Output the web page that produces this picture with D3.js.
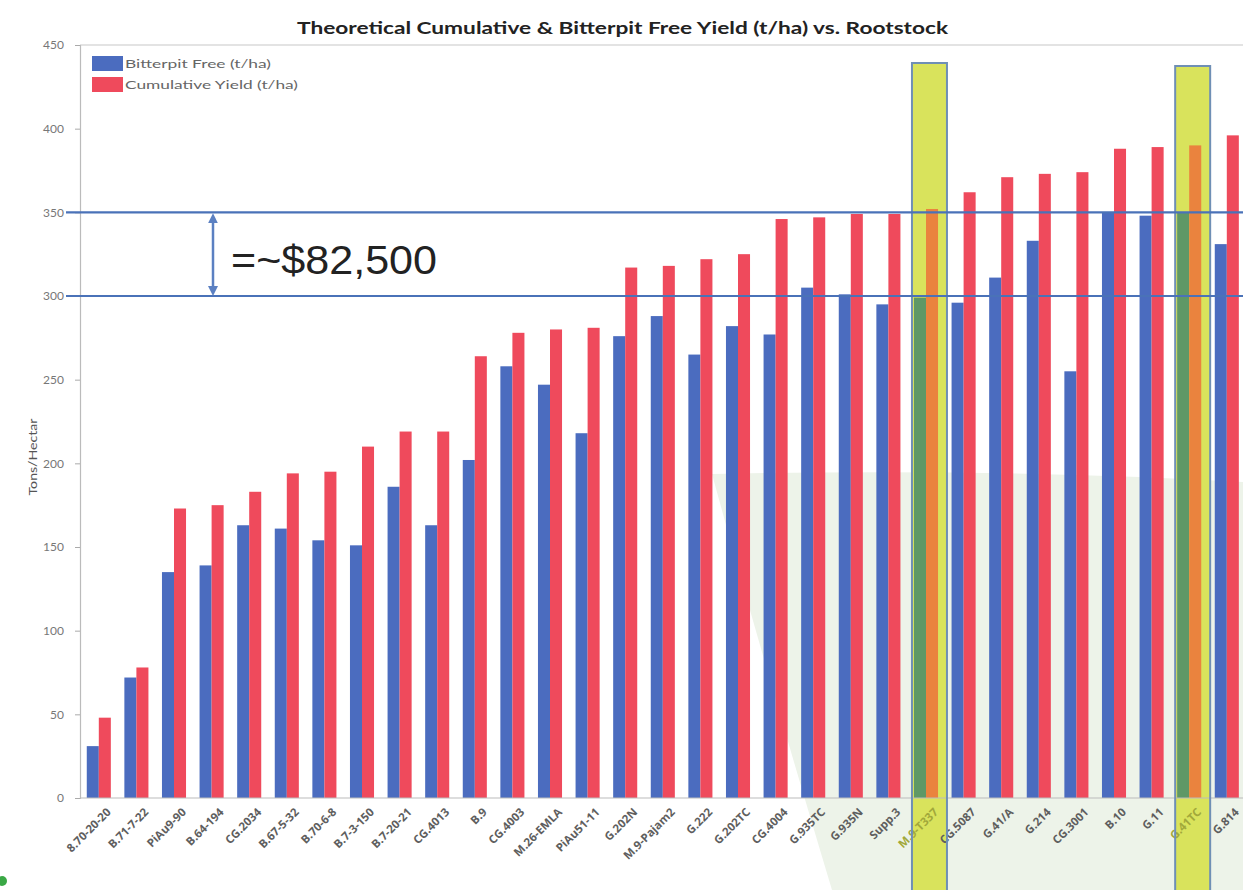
<!DOCTYPE html>
<html><head><meta charset="utf-8">
<script src="https://cdn.jsdelivr.net/npm/d3@7"></script>
<style>
html,body{margin:0;padding:0;background:#fff;}
svg{display:block;}
</style></head>
<body>
<svg id="chart" width="1243" height="890"></svg>
<script>
const categories = ["8.70-20-20","B.71-7-22","PiAu9-90","B.64-194","CG.2034","B.67-5-32","B.70-6-8","B.7-3-150","B.7-20-21","CG.4013","B.9","CG.4003","M.26-EMLA","PiAu51-11","G.202N","M.9-Pajam2","G.222","G.202TC","CG.4004","G.935TC","G.935N","Supp.3","M.9-T337","CG.5087","G.41/A","G.214","CG.3001","B.10","G.11","G.41TC","G.814"];
const bitterpitFree = [31,72,135,139,163,161,154,151,186,163,202,258,247,218,276,288,265,282,277,305,301,295,299,296,311,333,255,350,348,350,331];
const cumulativeYield = [48,78,173,175,183,194,195,210,219,219,264,278,280,281,317,318,322,325,346,347,349,349,352,362,371,373,374,388,389,390,396];
const seriesNames = ["Bitterpit Free (t/ha)","Cumulative Yield (t/ha)"];
const yTicks = [0,50,100,150,200,250,300,350,400,450];
const highlighted = ["M.9-T337","G.41TC"];
const refLines = [350,300];
const annotationText = "=~$82,500";
const titleText = "Theoretical Cumulative & Bitterpit Free Yield (t/ha) vs. Rootstock";
const yTitle = "Tons/Hectar";

const colors = ["#4b6cbf","#ef4a5c"];
const hlColors = ["#5f9866","#ea833e"];
const svg = d3.select("#chart");

const y = d3.scaleLinear().domain([0,450]).range([798,45]);
const x = d3.scaleBand().domain(categories).range([80, 80+31*37.6]).paddingInner(0.36).paddingOuter(0.18);
const xs = d3.scaleBand().domain([0,1]).range([0, x.bandwidth()]);

// pale green background shape
svg.append("path")
  .attr("d","M712,474 Q760,650 832,890 L1243,890 L1243,482 Q1000,468 712,474 Z")
  .attr("fill","#edf3e9");

// top frame line
svg.append("line").attr("x1",80).attr("x2",1243).attr("y1",y(450)).attr("y2",y(450)).attr("stroke","#c8c8c8").attr("stroke-width",1.2);

// highlight rectangles (fill, behind bars)
svg.selectAll("rect.hl").data(highlighted).join("rect").attr("class","hl")
  .attr("x", d=>x(d)-2).attr("width", 35)
  .attr("y", (d,i)=> i===0 ? 63 : 66).attr("height", 900)
  .attr("fill","#d9e35c");

// bars
const data = categories.map((c,i)=>({cat:c, hl: highlighted.includes(c), vals:[bitterpitFree[i], cumulativeYield[i]]}));
const g = svg.append("g");
const groups = g.selectAll("g.grp").data(data).join("g").attr("class","grp")
  .attr("transform", d=>`translate(${x(d.cat)},0)`);
groups.selectAll("rect").data(d=>d.vals.map((v,k)=>({v,k,hl:d.hl}))).join("rect")
  .attr("x", d=>xs(d.k)).attr("width", xs.bandwidth())
  .attr("y", d=>y(d.v)).attr("height", d=>y(0)-y(d.v))
  .attr("fill", d=> d.hl ? hlColors[d.k] : colors[d.k]);

// axes
const yAxis = d3.axisLeft(y).tickValues(yTicks).tickSize(5).tickPadding(11);
const ya = svg.append("g").attr("transform","translate(80,0)").call(yAxis);
ya.select(".domain").attr("stroke","#bbb").attr("stroke-width",1.2);
ya.selectAll(".tick line").attr("stroke","#aaa");
ya.selectAll(".tick text").attr("fill","#777").style("font-family","Lato, 'Open Sans', sans-serif").style("font-size","12px");

const xAxis = d3.axisBottom(x).tickSize(0).tickPadding(0);
const xa = svg.append("g").attr("transform",`translate(0,${y(0)})`).call(xAxis);
xa.select(".domain").attr("stroke","#bbb").attr("stroke-width",1.2).attr("d",`M80,0H1243`);
xa.selectAll(".tick text")
  .attr("text-anchor","end")
  .attr("transform","translate(10,12) rotate(-45)")
  .attr("dy","0.35em")
  .attr("fill", d=> highlighted.includes(d) ? "#a2a83a" : "#5e5e5e")
  .style("font-family","'Open Sans', Lato, sans-serif")
  .style("font-weight","bold")
  .style("font-size","11.5px");

// highlight rectangle outlines
svg.selectAll("rect.hlo").data(highlighted).join("rect").attr("class","hlo")
  .attr("x", d=>x(d)-2).attr("width", 35)
  .attr("y", (d,i)=> i===0 ? 63 : 66).attr("height", 900)
  .attr("fill","none")
  .attr("stroke","#6f8fb5").attr("stroke-width",2);

// reference lines
svg.selectAll("line.ref").data(refLines).join("line").attr("class","ref")
  .attr("x1",66).attr("x2",1243).attr("y1",d=>y(d)).attr("y2",d=>y(d))
  .attr("stroke","#4a72b8").attr("stroke-width",2.2);

// double arrow
const ax = 213;
const defs = svg.append("defs");
defs.append("marker").attr("id","ah").attr("viewBox","0 0 10 10").attr("refX",5).attr("refY",5)
  .attr("markerWidth",4).attr("markerHeight",4).attr("orient","auto-start-reverse")
  .append("path").attr("d","M0,0 L10,5 L0,10 Z").attr("fill","#5b80c2");
svg.append("line").attr("x1",ax).attr("x2",ax).attr("y1",y(350)+6).attr("y2",y(300)-5)
  .attr("stroke","#5b80c2").attr("stroke-width",2.5)
  .attr("marker-start","url(#ah)").attr("marker-end","url(#ah)");
svg.append("text").attr("x",231).attr("y",274).text(annotationText)
  .attr("fill","#222").style("font-family","'Liberation Sans', Arial, sans-serif").style("font-size","40px")
  .attr("textLength",206).attr("lengthAdjust","spacingAndGlyphs");

// title
svg.append("text").attr("x",297).attr("y",34).text(titleText)
  .attr("fill","#222").style("font-family","Lato, sans-serif").style("font-weight","bold").style("font-size","17px")
  .attr("textLength",651).attr("lengthAdjust","spacingAndGlyphs");

// y title
svg.append("text").attr("transform","translate(37,457) rotate(-90)").attr("text-anchor","middle")
  .text(yTitle).attr("fill","#555").style("font-family","Lato, sans-serif").style("font-size","11px")
  .attr("textLength",77).attr("lengthAdjust","spacingAndGlyphs");

// legend
const leg = svg.append("g");
const legY = [56, 77];
const legLen = [146, 173];
seriesNames.forEach((n,i)=>{
  leg.append("rect").attr("x",92).attr("y",legY[i]).attr("width",31).attr("height",15).attr("fill",colors[i]);
  leg.append("text").attr("x",125).attr("y",legY[i]+11.5).text(n).attr("fill","#666")
    .style("font-family","Lato, sans-serif").style("font-size","11.5px")
    .attr("textLength",legLen[i]).attr("lengthAdjust","spacingAndGlyphs");
});

// small green decoration bottom-left
svg.append("circle").attr("cx",2).attr("cy",881).attr("r",5).attr("fill","#3aa845");
</script>
</body></html>
